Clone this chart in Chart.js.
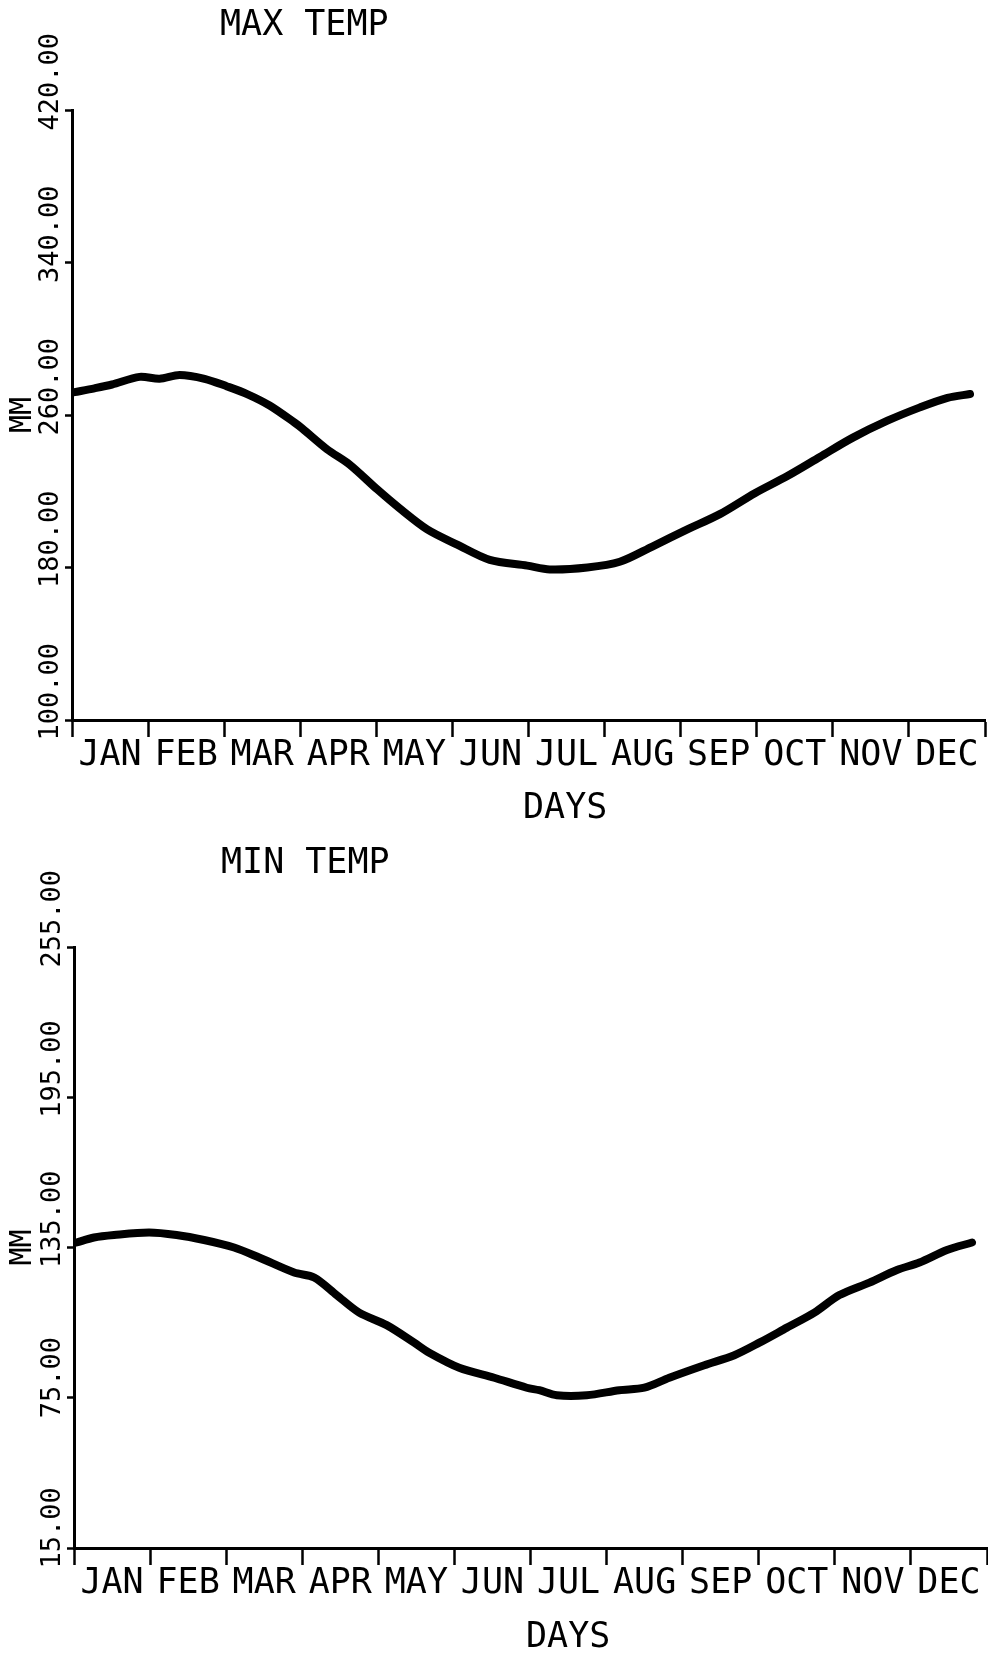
<!DOCTYPE html>
<html>
<head>
<meta charset="utf-8">
<title>MAX TEMP / MIN TEMP</title>
<script src="https://cdn.jsdelivr.net/npm/chart.js@4.4.1/dist/chart.umd.min.js"></script>
<style>
  html, body { margin: 0; padding: 0; background: #fff; }
  #page { position: relative; width: 988px; height: 1654px; overflow: hidden; }
  canvas { position: absolute; left: 0; }
  .label {
    position: absolute;
    font-family: 'DejaVu Sans Mono', monospace;
    font-size: 35px;
    line-height: 1;
    color: #000;
    white-space: pre;
  }
</style>
</head>
<body>
<div id="page">
  <canvas id="maxChart" width="988" height="827" style="top:0"></canvas>
  <canvas id="minChart" width="988" height="827" style="top:827px"></canvas>
  <div class="label" style="left:220px;top:6px">MAX TEMP</div>
  <div class="label" style="left:523px;top:789px">DAYS</div>
  <div class="label" style="left:221px;top:844px">MIN TEMP</div>
  <div class="label" style="left:526px;top:1618px">DAYS</div>
</div>
<script>
// Month labels sit between the month boundary ticks
const MONTHS = ['JAN', 'FEB', 'MAR', 'APR', 'MAY', 'JUN', 'JUL', 'AUG', 'SEP', 'OCT', 'NOV', 'DEC'];

// Max temp curve (day of year -> MM)
const maxDays = [1, 9, 16, 27, 35, 43, 53, 62, 70, 79, 89, 92, 102, 111, 122, 131, 142, 154, 167,
                 182, 191, 206, 219, 232, 246, 259, 273, 286, 299, 312, 326, 339, 350, 359];
const maxTemp = [272, 274, 276, 280, 279, 281, 279, 275, 271, 265, 256, 253, 242, 234, 221, 211, 200, 192, 184,
                 181, 179, 180, 183, 191, 200, 208, 219, 228, 238, 248, 257, 264, 269, 271];
const maxTicks = [100, 180, 260, 340, 420];

// Min temp curve
const minDays = [1, 8, 16, 30, 41, 52, 64, 74, 88, 96, 105, 114, 125, 136, 142, 154, 168, 181,
                 186, 193, 205, 218, 228, 238, 252, 264, 274, 285, 296, 306, 318, 329, 338, 349, 359];
const minTemp = [137, 139, 140, 141, 140, 138, 135, 131, 125, 123, 116, 109, 104, 97, 93, 87, 83, 79,
                 78, 76, 76, 78, 79, 83, 88, 92, 97, 103, 109, 116, 121, 126, 129, 134, 137];
const minTicks = [15, 75, 135, 195, 255];

Chart.defaults.font.family = "'DejaVu Sans Mono', monospace";
Chart.defaults.color = '#000';

// Build one plotter-style panel; box is the plot area inside its canvas
function makeChart(id, days, temps, yTicks, box) {
    const canvas = document.getElementById(id);
    const H = canvas.height;
    const monthWidth = (box.right - box.left) / 12;

    return new Chart(canvas, {
        type: 'line',
        data: {
            datasets: [{
                data: days.map((d, i) => ({ x: d, y: temps[i] })),
                borderColor: '#000',
                borderWidth: 8,
                borderCapStyle: 'round',
                borderJoinStyle: 'round',
                pointRadius: 0,
                tension: 0.3,
                fill: false
            }]
        },
        options: {
            responsive: false,
            animation: false,
            devicePixelRatio: 1,
            layout: {
                padding: { top: box.top, right: canvas.width - box.right, bottom: 0, left: 0 }
            },
            plugins: {
                legend: { display: false },
                tooltip: { enabled: false }
            },
            scales: {
                x: {
                    type: 'linear',
                    min: 0,
                    max: 365,
                    afterBuildTicks: s => {
                        s.ticks = MONTHS.concat('').map((_, i) => ({ value: i * 365 / 12 }));
                    },
                    afterFit: s => { s.height = H - box.bottom; },
                    border: { display: true, color: '#000', width: 3 },
                    grid: { drawOnChartArea: false, drawTicks: true, tickLength: 17, tickWidth: 2.5, tickColor: '#000' },
                    ticks: {
                        autoSkip: false,
                        maxRotation: 0,
                        color: '#000',
                        font: { size: 35, lineHeight: 1 },
                        padding: 1,
                        labelOffset: monthWidth / 2,
                        callback: (v, i) => MONTHS[i] || ''
                    }
                },
                y: {
                    type: 'linear',
                    min: yTicks[0],
                    max: yTicks[yTicks.length - 1],
                    afterBuildTicks: s => { s.ticks = yTicks.map(v => ({ value: v })); },
                    afterFit: s => { s.width = box.left; },
                    border: { display: true, color: '#000', width: 3 },
                    grid: { drawOnChartArea: false, drawTicks: true, tickLength: 7, tickWidth: 2.5, tickColor: '#000' },
                    ticks: {
                        minRotation: 90,
                        maxRotation: 90,
                        color: '#000',
                        font: { size: 27 },
                        padding: 14,
                        labelOffset: -77,
                        callback: v => v.toFixed(2).padEnd(6)
                    },
                    title: {
                        display: true,
                        text: 'MM',
                        color: '#000',
                        font: { size: 30 },
                        padding: { top: 5, bottom: 0 }
                    }
                }
            }
        }
    });
}

makeChart('maxChart', maxDays, maxTemp, maxTicks, { top: 110, bottom: 720, left: 72, right: 985 });
makeChart('minChart', minDays, minTemp, minTicks, { top: 120, bottom: 721, left: 74, right: 987 });
</script>
</body>
</html>
